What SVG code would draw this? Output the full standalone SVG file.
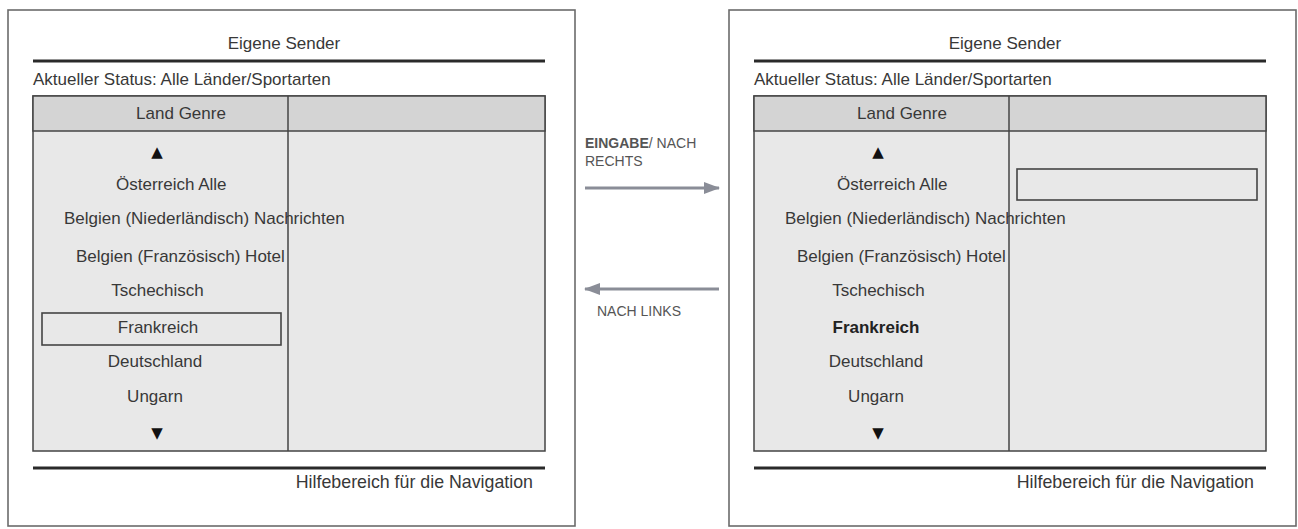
<svg xmlns="http://www.w3.org/2000/svg" width="1298" height="529" viewBox="0 0 1298 529">
<defs>
<style>
.frame{fill:#fff;stroke:#6b6b6b;stroke-width:1.6}
.rule{stroke:#2a2a2a;stroke-width:3}
.tbl{fill:#e8e8e8;stroke:#444;stroke-width:1.5}
.hdr{fill:#d4d4d4;stroke:#444;stroke-width:1.5}
.div{stroke:#444;stroke-width:1.5}
.sel{fill:none;stroke:#444;stroke-width:1.6}
.t{font-family:"Liberation Sans",Arial,sans-serif;font-size:17px;fill:#383838}
.c{text-anchor:middle}
.b{font-weight:bold;fill:#222}
.help{font-size:17.8px;text-anchor:end}
.tri{font-family:"DejaVu Sans",sans-serif;font-size:15px;fill:#111;text-anchor:middle}
.lbl{font-family:"Liberation Sans",Arial,sans-serif;font-size:14px;fill:#555}
.arr{stroke:#8a8d97;stroke-width:3;fill:none}
</style>
<marker id="ah" viewBox="0 0 16 12" refX="15" refY="6" markerWidth="16" markerHeight="12" markerUnits="userSpaceOnUse" orient="auto">
<polygon points="0,0 16,6 0,12" fill="#8a8d97"/>
</marker>
</defs>
<rect width="1298" height="529" fill="#fff"/>

<g id="screen-left">
<rect class="frame" x="8" y="10" width="567" height="516"/>
<text class="t c" x="284" y="49">Eigene Sender</text>
<line class="rule" x1="33" y1="61" x2="545" y2="61"/>
<text class="t" x="33" y="85">Aktueller Status: Alle Länder/Sportarten</text>
<rect class="tbl" x="33" y="96" width="512" height="355"/>
<rect class="hdr" x="33" y="96" width="512" height="35"/>
<line class="div" x1="288" y1="96" x2="288" y2="451"/>
<text class="t c" x="181" y="119">Land Genre</text>
<text class="tri" x="157" y="157">▲</text>
<text class="t" x="116" y="190">Österreich Alle</text>
<text class="t" x="64" y="224">Belgien (Niederländisch) Nachrichten</text>
<text class="t" x="76" y="262">Belgien (Französisch) Hotel</text>
<text class="t c" x="157.5" y="296">Tschechisch</text>
<rect class="sel" x="42" y="313" width="239" height="32"/>
<text class="t c" x="158" y="333">Frankreich</text>
<text class="t c" x="155" y="367">Deutschland</text>
<text class="t c" x="155" y="402">Ungarn</text>
<text class="tri" x="157" y="438">▼</text>
<line class="rule" x1="33" y1="468" x2="545" y2="468"/>
<text class="t help" x="533" y="488">Hilfebereich für die Navigation</text>
</g>

<g id="screen-right">
<rect class="frame" x="729" y="10" width="567" height="516"/>
<text class="t c" x="1005" y="49">Eigene Sender</text>
<line class="rule" x1="754" y1="61" x2="1266" y2="61"/>
<text class="t" x="754" y="85">Aktueller Status: Alle Länder/Sportarten</text>
<rect class="tbl" x="754" y="96" width="512" height="355"/>
<rect class="hdr" x="754" y="96" width="512" height="35"/>
<line class="div" x1="1009" y1="96" x2="1009" y2="451"/>
<text class="t c" x="902" y="119">Land Genre</text>
<text class="tri" x="878" y="157">▲</text>
<text class="t" x="837" y="190">Österreich Alle</text>
<rect class="sel" x="1017" y="169" width="240" height="31"/>
<text class="t" x="785" y="224">Belgien (Niederländisch) Nachrichten</text>
<text class="t" x="797" y="262">Belgien (Französisch) Hotel</text>
<text class="t c" x="878.5" y="296">Tschechisch</text>
<text class="t c b" x="876" y="333">Frankreich</text>
<text class="t c" x="876" y="367">Deutschland</text>
<text class="t c" x="876" y="402">Ungarn</text>
<text class="tri" x="878" y="438">▼</text>
<line class="rule" x1="754" y1="468" x2="1266" y2="468"/>
<text class="t help" x="1254" y="488">Hilfebereich für die Navigation</text>
</g>

<g id="connectors">
<line class="arr" x1="585" y1="188" x2="719" y2="188" marker-end="url(#ah)"/>
<text class="lbl" x="585" y="148"><tspan font-weight="bold">EINGABE</tspan>/ NACH</text>
<text class="lbl" x="585" y="166">RECHTS</text>
<line class="arr" x1="719" y1="289" x2="585" y2="289" marker-end="url(#ah)"/>
<text class="lbl" x="597" y="316">NACH LINKS</text>
</g>
</svg>
